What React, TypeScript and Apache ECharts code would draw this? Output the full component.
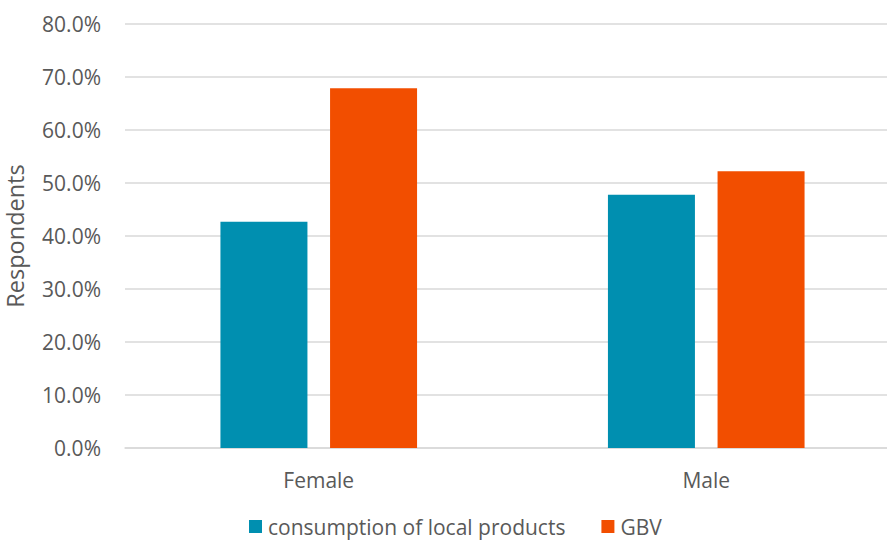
import React, { useEffect, useRef } from "react";
import * as echarts from "echarts";

const categories = ["Female", "Male"];
const localProducts = [42.7, 47.8];
const gbv = [67.9, 52.2];
const seriesNames = ["consumption of local products", "GBV"];

export default function App() {
  const ref = useRef<HTMLDivElement>(null);
  useEffect(() => {
    if (!ref.current) return;
    const chart = echarts.init(ref.current, null, { renderer: "svg" });
    const font = "'Open Sans', sans-serif";
    chart.setOption({
      animation: false,
      textStyle: { fontFamily: font },
      grid: { left: 125, right: -13, top: 24, bottom: 94, outerBoundsMode: "none", containLabel: false },
      legend: {
        bottom: 0,
        left: 244,
        itemWidth: 13,
        itemHeight: 13,
        itemGap: 36,
        icon: "rect",
        textStyle: { fontFamily: font, fontSize: 21, color: "#595959", padding: [0, 0, 0, 1] },
        data: seriesNames,
      },
      xAxis: {
        type: "category",
        data: categories,
        axisLine: { lineStyle: { color: "#D9D9D9", width: 1.5 } },
        axisTick: { show: false },
        axisLabel: { fontFamily: font, fontSize: 21, color: "#595959", margin: 21 },
      },
      yAxis: {
        type: "value",
        min: 0,
        max: 80,
        interval: 10,
        name: "Respondents",
        nameLocation: "middle",
        nameGap: 98,
        nameTextStyle: { fontFamily: font, fontSize: 23.5, color: "#595959" },
        axisLabel: {
          fontFamily: font,
          fontSize: 21,
          color: "#595959",
          margin: 24,
          formatter: (v: number) => v.toFixed(1) + "%",
        },
        splitLine: { lineStyle: { color: "#D9D9D9", width: 1.5 } },
      },
      series: [
        {
          name: seriesNames[0],
          type: "bar",
          data: localProducts,
          barWidth: 87,
          barGap: "26%",
          itemStyle: { color: "#008FB0" },
        },
        {
          name: seriesNames[1],
          type: "bar",
          data: gbv,
          barWidth: 87,
          itemStyle: { color: "#F24E00" },
        },
      ],
    });
    return () => chart.dispose();
  }, []);
  return (
    <div
      ref={ref}
      style={{ position: "fixed", left: 0, top: 0, width: 887, height: 542, background: "#fff" }}
    />
  );
}
